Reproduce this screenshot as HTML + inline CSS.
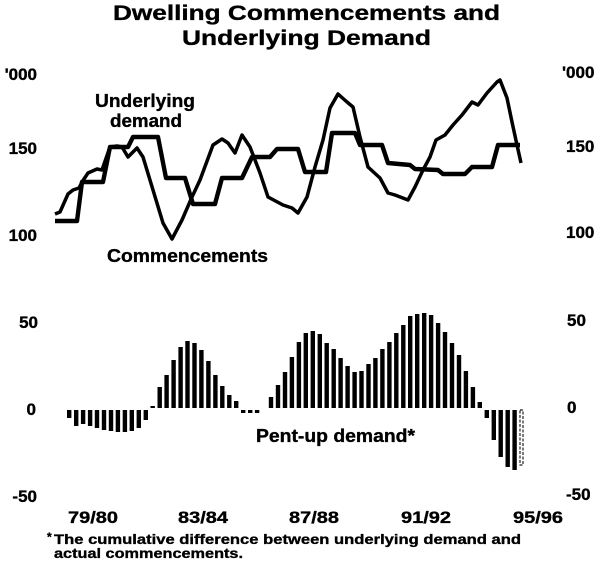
<!DOCTYPE html>
<html>
<head>
<meta charset="utf-8">
<style>
  html, body { margin: 0; padding: 0; background: #fff; }
  svg { display: block; }
  text { font-family: "Liberation Sans", Arial, sans-serif; font-weight: bold; fill: #000; stroke: #000; stroke-width: 0.35; }
</style>
</head>
<body>
<svg width="600" height="571" viewBox="0 0 600 571" xmlns="http://www.w3.org/2000/svg">
  <rect width="600" height="571" fill="#fff"/>

  <text x="113" y="20" font-size="21.5" textLength="387" lengthAdjust="spacingAndGlyphs">Dwelling Commencements and</text>
  <text x="182" y="45" font-size="21.5" textLength="249" lengthAdjust="spacingAndGlyphs">Underlying Demand</text>

  <g font-size="17" text-anchor="end">
    <text x="37" y="80">'000</text>
    <text x="37" y="154">150</text>
    <text x="37" y="241">100</text>
    <text x="38" y="328">50</text>
    <text x="36" y="415">0</text>
    <text x="37" y="502">-50</text>
  </g>
  <g font-size="17">
    <text x="562" y="78">'000</text>
    <text x="566" y="152">150</text>
    <text x="566" y="238">100</text>
    <text x="567" y="326">50</text>
    <text x="567" y="413">0</text>
    <text x="566" y="500">-50</text>
  </g>

  <text x="95" y="107" font-size="18" textLength="100" lengthAdjust="spacingAndGlyphs">Underlying</text>
  <text x="110" y="127" font-size="18" textLength="72" lengthAdjust="spacingAndGlyphs">demand</text>
  <text x="107" y="262" font-size="18" textLength="161" lengthAdjust="spacingAndGlyphs">Commencements</text>
  <text x="256" y="442" font-size="18" textLength="159" lengthAdjust="spacingAndGlyphs">Pent-up demand*</text>

  <polyline fill="none" stroke="#000" stroke-width="4.4" stroke-linejoin="round"
    points="55,221 77,221 82,182 103,182 110,147 128,147 133,137 158,137 166,178 185,178 193,204 215,204 222,178 242,178 252,157 270,157 277,149 298,149 305,172 326,172 332,133 355,133 360,145 382,145 388,163 410,165 415,169 438,170 443,174 465,174 472,167 492,167 498,145 520,145"/>

  <polyline fill="none" stroke="#000" stroke-width="3.5" stroke-linejoin="round"
    points="55,214 60,212 68,194 73,190 79,188 82,182 88,173 97,169 102,170 110,147 117,146 122,147 128,157 137,148 143,157 153,190 163,223 172,239 182,220 192,197 200,180 213,145 222,139 228,143 235,153 242,135 250,147 260,173 268,197 283,205 292,208 298,213 307,197 315,167 323,140 330,108 338,94 347,102 353,107 360,137 368,167 380,178 388,193 395,195 408,200 415,187 423,170 430,157 436,140 445,135 453,125 462,115 472,102 478,105 487,93 497,82 500,80 507,98 512,122 517,145 521,163"/>

  <g fill="#000">
    <rect x="67.0" y="410" width="4.4" height="8"/>
    <rect x="74.0" y="410" width="4.4" height="16"/>
    <rect x="80.9" y="410" width="4.4" height="14"/>
    <rect x="87.9" y="410" width="4.4" height="16"/>
    <rect x="94.8" y="410" width="4.4" height="18"/>
    <rect x="101.8" y="410" width="4.4" height="20"/>
    <rect x="108.8" y="410" width="4.4" height="21"/>
    <rect x="115.7" y="410" width="4.4" height="22"/>
    <rect x="122.7" y="410" width="4.4" height="22"/>
    <rect x="129.6" y="410" width="4.4" height="21"/>
    <rect x="136.6" y="410" width="4.4" height="18"/>
    <rect x="143.6" y="410" width="4.4" height="10"/>
    <rect x="150.5" y="406" width="4.4" height="2"/>
    <rect x="157.5" y="387" width="4.4" height="21"/>
    <rect x="164.4" y="375" width="4.4" height="33"/>
    <rect x="171.4" y="360" width="4.4" height="48"/>
    <rect x="178.4" y="347" width="4.4" height="61"/>
    <rect x="185.3" y="341" width="4.4" height="67"/>
    <rect x="192.3" y="343" width="4.4" height="65"/>
    <rect x="199.2" y="350" width="4.4" height="58"/>
    <rect x="206.2" y="361" width="4.4" height="47"/>
    <rect x="213.2" y="375" width="4.4" height="33"/>
    <rect x="220.1" y="386" width="4.4" height="22"/>
    <rect x="227.1" y="395" width="4.4" height="13"/>
    <rect x="234.0" y="401" width="4.4" height="7"/>
    <rect x="241.0" y="410" width="4.4" height="3"/>
    <rect x="248.0" y="410" width="4.4" height="3"/>
    <rect x="254.9" y="410" width="4.4" height="3"/>
    <rect x="268.8" y="397" width="4.4" height="11"/>
    <rect x="275.8" y="385" width="4.4" height="23"/>
    <rect x="282.8" y="372" width="4.4" height="36"/>
    <rect x="289.7" y="357" width="4.4" height="51"/>
    <rect x="296.7" y="342" width="4.4" height="66"/>
    <rect x="303.6" y="333" width="4.4" height="75"/>
    <rect x="310.6" y="331" width="4.4" height="77"/>
    <rect x="317.6" y="334" width="4.4" height="74"/>
    <rect x="324.5" y="343" width="4.4" height="65"/>
    <rect x="331.5" y="349" width="4.4" height="59"/>
    <rect x="338.4" y="358" width="4.4" height="50"/>
    <rect x="345.4" y="366" width="4.4" height="42"/>
    <rect x="352.4" y="372" width="4.4" height="36"/>
    <rect x="359.3" y="371" width="4.4" height="37"/>
    <rect x="366.3" y="364" width="4.4" height="44"/>
    <rect x="373.2" y="358" width="4.4" height="50"/>
    <rect x="380.2" y="349" width="4.4" height="59"/>
    <rect x="387.2" y="342" width="4.4" height="66"/>
    <rect x="394.1" y="333" width="4.4" height="75"/>
    <rect x="401.1" y="325" width="4.4" height="83"/>
    <rect x="408.0" y="316" width="4.4" height="92"/>
    <rect x="415.0" y="314" width="4.4" height="94"/>
    <rect x="422.0" y="313" width="4.4" height="95"/>
    <rect x="428.9" y="315" width="4.4" height="93"/>
    <rect x="435.9" y="323" width="4.4" height="85"/>
    <rect x="442.8" y="332" width="4.4" height="76"/>
    <rect x="449.8" y="343" width="4.4" height="65"/>
    <rect x="456.8" y="355" width="4.4" height="53"/>
    <rect x="463.7" y="371" width="4.4" height="37"/>
    <rect x="470.7" y="387" width="4.4" height="21"/>
    <rect x="477.6" y="402" width="4.4" height="6"/>
    <rect x="484.6" y="410" width="4.4" height="8"/>
    <rect x="491.6" y="410" width="4.4" height="30"/>
    <rect x="498.5" y="410" width="4.4" height="47"/>
    <rect x="505.5" y="410" width="4.4" height="57"/>
    <rect x="512.4" y="410" width="4.4" height="60"/>
  </g>
  <rect x="520" y="410" width="3" height="55" fill="#fff" stroke="#222" stroke-width="1.2" stroke-dasharray="3,1.5"/>

  <g font-size="17">
    <text x="68" y="523" textLength="50" lengthAdjust="spacingAndGlyphs">79/80</text>
    <text x="178" y="523" textLength="50" lengthAdjust="spacingAndGlyphs">83/84</text>
    <text x="289" y="523" textLength="50" lengthAdjust="spacingAndGlyphs">87/88</text>
    <text x="401" y="523" textLength="50" lengthAdjust="spacingAndGlyphs">91/92</text>
    <text x="513" y="523" textLength="50" lengthAdjust="spacingAndGlyphs">95/96</text>
  </g>

  <text x="47" y="541" font-size="12">*</text>
  <text x="54" y="544" font-size="14" textLength="467" lengthAdjust="spacingAndGlyphs">The cumulative difference between underlying demand and</text>
  <text x="54" y="558" font-size="14" textLength="189" lengthAdjust="spacingAndGlyphs">actual commencements.</text>
</svg>
</body>
</html>
